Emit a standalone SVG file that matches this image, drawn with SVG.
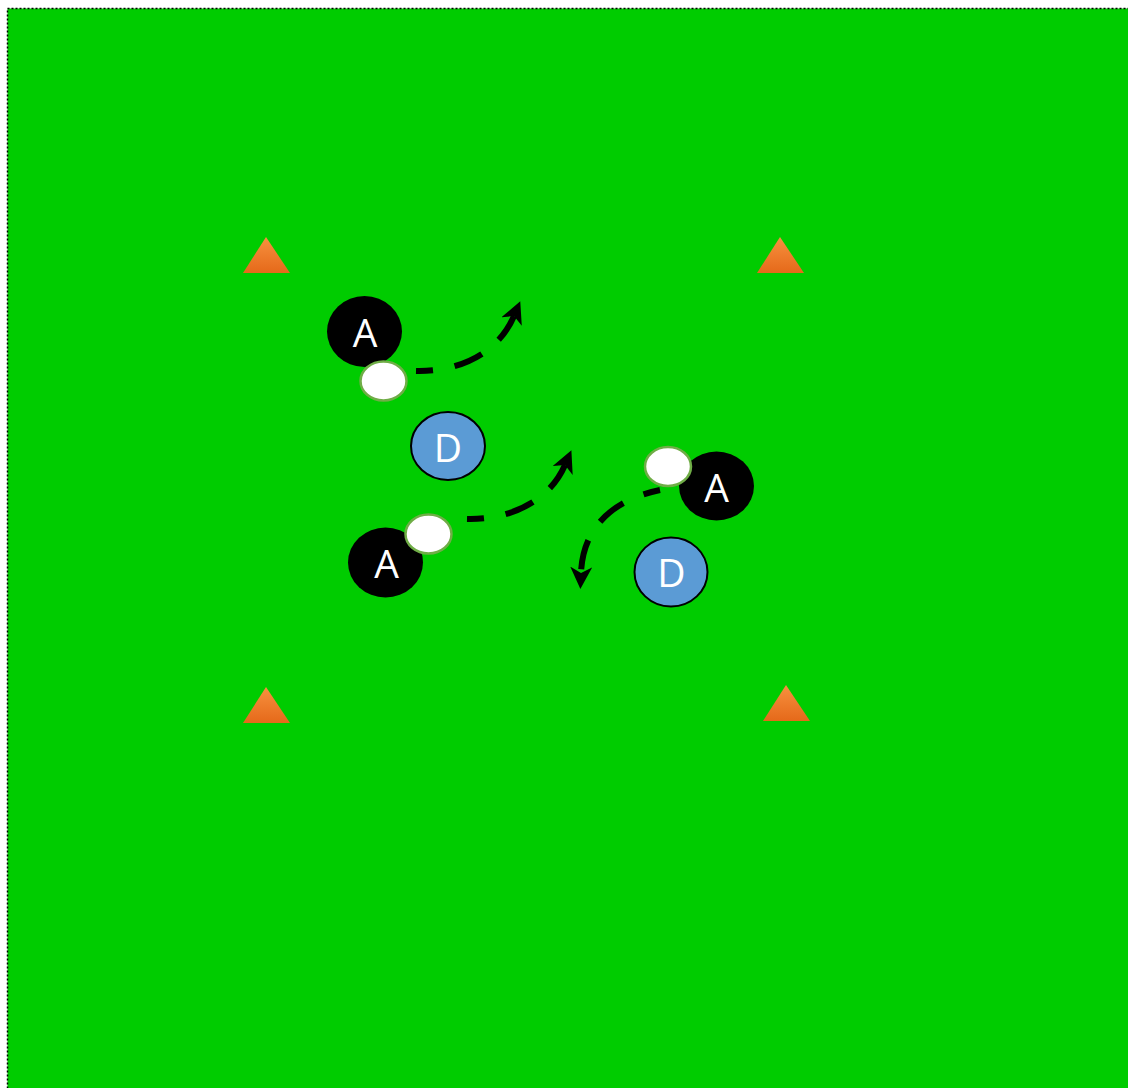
<svg xmlns="http://www.w3.org/2000/svg" width="1128" height="1088" viewBox="0 0 1128 1088">
<style>
.lbl{font-family:"Open Sans","Liberation Sans",sans-serif;font-size:39px;fill:#fff;text-anchor:middle}
.att{fill:#000}
.def{fill:#5B9BD5;stroke:#000;stroke-width:2}
.ball{fill:#fff;stroke:#70AD47;stroke-width:2.5}
.cone{fill:url(#coneGrad)}
.run{fill:none;stroke:#000;stroke-width:6;stroke-dasharray:30 22;stroke-dashoffset:13;marker-end:url(#head)}
</style>
<defs>
<linearGradient id="coneGrad" x1="0" y1="0" x2="0" y2="1">
<stop offset="0" stop-color="#F7913F"/>
<stop offset="1" stop-color="#E5691A"/>
</linearGradient>
<marker id="head" markerUnits="userSpaceOnUse" viewBox="0 0 22 22" markerWidth="22" markerHeight="22" refX="6" refY="11" orient="auto">
<path d="M0,0 L22,11 L0,22 L6,11 z" fill="#000"/>
</marker>
</defs>
<rect x="7.5" y="8.5" width="1130" height="1090" fill="#00CC00" stroke="#000" stroke-width="1.5" stroke-dasharray="2 2"/>
<g id="cones">
<polygon id="cone-tl" class="cone" points="266,237 243,273 290,273"/>
<polygon id="cone-tr" class="cone" points="780,237 757,273 804,273"/>
<polygon id="cone-bl" class="cone" points="266,687 243,723 290,723"/>
<polygon id="cone-br" class="cone" points="786,685 763,721 810,721"/>
</g>
<g id="connectors">
<path id="run1" class="run" d="M416,371 C455,372 497,356 514,316"/>
<path id="run2" class="run" d="M467,519 C506,520 548,504 565,465"/>
<path id="run3" class="run" d="M660,490 C620,498 583,522 581,573"/>
</g>
<g id="attacker1"><ellipse class="att" cx="364.5" cy="331.5" rx="37.5" ry="35.5"/><text class="lbl" x="365" y="347">A</text></g>
<g id="ball1"><ellipse class="ball" cx="383.5" cy="381" rx="23" ry="19.5"/></g>
<g id="defender1"><ellipse class="def" cx="448" cy="446" rx="37" ry="34"/><text class="lbl" x="448" y="462">D</text></g>
<g id="attacker2"><ellipse class="att" cx="385.5" cy="562.5" rx="37.5" ry="35"/><text class="lbl" x="386.5" y="578">A</text></g>
<g id="ball2"><ellipse class="ball" cx="428.5" cy="534" rx="23" ry="19.5"/></g>
<g id="attacker3"><ellipse class="att" cx="716.5" cy="486" rx="37.5" ry="34.5"/><text class="lbl" x="716.5" y="502">A</text></g>
<g id="ball3"><ellipse class="ball" cx="668" cy="466.5" rx="23" ry="19.5"/></g>
<g id="defender2"><ellipse class="def" cx="671" cy="572" rx="36.5" ry="34.5"/><text class="lbl" x="671.5" y="587">D</text></g>
</svg>
